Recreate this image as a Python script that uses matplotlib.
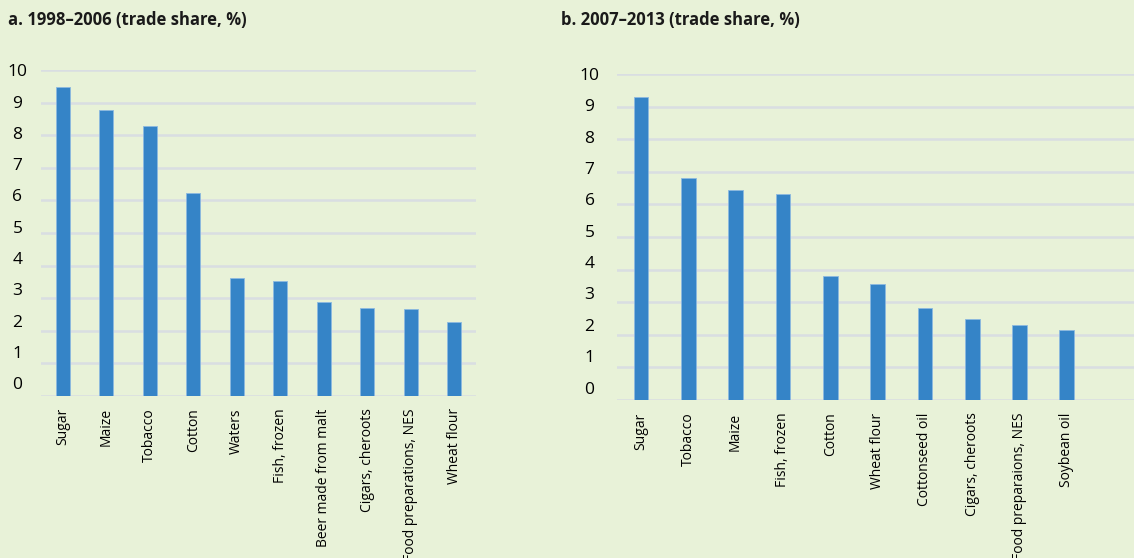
import matplotlib.pyplot as plt
from matplotlib.transforms import ScaledTranslation

# panel a: 1998-2006
products_a = ["Sugar", "Maize", "Tobacco", "Cotton", "Waters", "Fish, frozen",
              "Beer made from malt", "Cigars, cheroots", "Food preparations, NES", "Wheat flour"]
share_a = [9.48, 8.78, 8.30, 6.24, 3.63, 3.51, 2.88, 2.69, 2.66, 2.25]

# panel b: 2007-2013
products_b = ["Sugar", "Tobacco", "Maize", "Fish, frozen", "Cotton", "Wheat flour",
              "Cottonseed oil", "Cigars, cheroots", "Food preparaions, NES", "Soybean oil"]
share_b = [9.30, 6.81, 6.44, 6.32, 3.80, 3.57, 2.81, 2.48, 2.31, 2.14]

titles = ["a. 1998\u20132006 (trade share, %)", "b. 2007\u20132013 (trade share, %)"]
yticks = list(range(0, 11))

bg = "#E8F2D8"
barcol = "#3584C7"
gridcol = "#D9DEE2"

W, H = 1134, 558
fig = plt.figure(figsize=(W / 100, H / 100), dpi=100, facecolor=bg)

def px_axes(x0, x1, ytop, ybot):
    return fig.add_axes([x0 / W, 1 - ybot / H, (x1 - x0) / W, (ybot - ytop) / H])

def draw_panel(ax, cats, vals, width, xmax, labelpad):
    ax.set_facecolor(bg)
    x = list(range(len(cats)))
    ax.bar(x, vals, width=width, color=barcol, edgecolor="#8CB9E0", linewidth=0.6, zorder=3)
    ax.set_xlim(-0.5, xmax)
    ax.set_ylim(0, 10)
    ax.set_yticks(yticks)
    ax.set_yticklabels([str(t) for t in yticks], family="Open Sans", fontsize=12.5,
                       ha="center")
    ax.set_xticks(x)
    ax.set_xticklabels(cats, rotation=90, family="Open Sans", fontsize=10, va="top")
    ax.tick_params(axis="both", length=0)
    ax.tick_params(axis="y", pad=labelpad)
    ax.tick_params(axis="x", pad=9)
    ax.grid(axis="y", color=gridcol, linewidth=1.8, zorder=0)
    for s in ax.spines.values():
        s.set_visible(False)
    # excel-style slight drift of the value labels
    for t, lab in zip(yticks, ax.get_yticklabels()):
        lab.set_transform(lab.get_transform() +
                          ScaledTranslation(0, (10 - t) * 0.9 / 72, fig.dpi_scale_trans))

ax1 = px_axes(41, 476, 70.3, 395.7)
draw_panel(ax1, products_a, share_a, 0.32, 9.5, 17)

ax2 = px_axes(617.3, 1134, 74, 400)
draw_panel(ax2, products_b, share_b, 0.31, 10.42, 20)

fig.text(8 / W, 1 - 20 / H, titles[0], family="Open Sans", fontweight="bold",
         fontsize=12, va="center", ha="left", color="#1a1a1a")
fig.text(561 / W, 1 - 20 / H, titles[1], family="Open Sans", fontweight="bold",
         fontsize=12, va="center", ha="left", color="#1a1a1a")

fig.savefig("out.png", dpi=100, facecolor=bg)
